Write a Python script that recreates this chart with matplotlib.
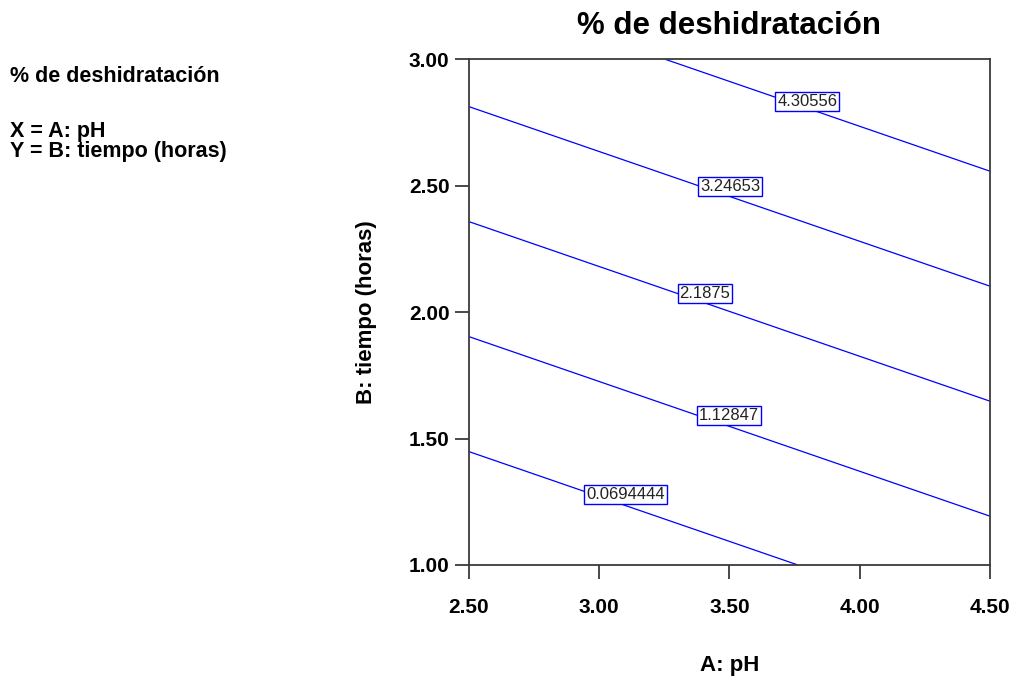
import numpy as np
import matplotlib
matplotlib.use("Agg")
import matplotlib.pyplot as plt

plt.rcParams['font.family'] = ['Liberation Sans', 'DejaVu Sans']

# Fitted linear response surface: % deshidratación = b0 + bA*pH + bB*tiempo
b0 = -5.3699
bA = 0.8267
bB = 2.3286

contour_levels = [0.0694444, 1.12847, 2.1875, 3.24653, 4.30556]
# label box centres (pH, tiempo), one per level
label_points = [(3.100, 1.278), (3.498, 1.593), (3.406, 2.072), (3.502, 2.495), (3.799, 2.835)]

ph_range = [2.5, 4.5]
tiempo_range = [1.0, 3.0]
x_ticks = [2.50, 3.00, 3.50, 4.00, 4.50]
y_ticks = [1.00, 1.50, 2.00, 2.50, 3.00]

title = "% de deshidratación"
x_label = "A: pH"
y_label = "B: tiempo (horas)"
side_lines = ["% de deshidratación", "X = A: pH", "Y = B: tiempo (horas)"]

fig = plt.figure(figsize=(10.2, 6.77), dpi=100)
ax = fig.add_axes([469 / 1020, 1 - 565 / 677, 521 / 1020, 505.7 / 677])

A = np.linspace(ph_range[0], ph_range[1], 201)
B = np.linspace(tiempo_range[0], tiempo_range[1], 201)
AA, BB = np.meshgrid(A, B)
Z = b0 + bA * AA + bB * BB

cs = ax.contour(AA, BB, Z, levels=contour_levels, colors='#0000ff', linewidths=0.9)
labels = ax.clabel(cs, inline=False, fmt='%g', fontsize=12, colors='#222222',
                   manual=label_points)
# keep labels horizontal, boxed, centred at the chosen points
for t in labels:
    lvl = float(t.get_text())
    i = int(np.argmin([abs(lvl - L) for L in contour_levels]))
    t.set_position(label_points[i])
    t.set_rotation(0)
    t.set_bbox(dict(boxstyle='square,pad=0.12', fc='white', ec='#0000ff', lw=1.0))
    t.set_zorder(5)

ax.set_xlim(ph_range)
ax.set_ylim(tiempo_range)
ax.set_xticks(x_ticks)
ax.set_yticks(y_ticks)
ax.set_xticklabels([f"{v:.2f}" for v in x_ticks])
ax.set_yticklabels([f"{v:.2f}" for v in y_ticks])

for s in ax.spines.values():
    s.set_color('#3a3a3a')
    s.set_linewidth(1.3)
ax.tick_params(axis='both', direction='out', length=10, width=1.3, color='#3a3a3a',
               labelsize=15)
ax.tick_params(axis='x', pad=14)
ax.tick_params(axis='y', pad=4)
for t in ax.get_xticklabels() + ax.get_yticklabels():
    t.set_fontweight('bold')

ax.set_xlabel(x_label, fontsize=16, fontweight='bold')
ax.xaxis.set_label_coords(0.5, -0.178)
ax.xaxis.label.set_va('top')
ax.set_ylabel(y_label, fontsize=16, fontweight='bold')
ax.yaxis.set_label_coords(-0.177, 0.5)

ax.set_title(title, fontsize=22.5, fontweight='bold', pad=18)

fig.text(10 / 1020, 1 - 82 / 677, side_lines[0], fontsize=15.5, fontweight='bold',
         va='baseline', ha='left')
fig.text(10 / 1020, 1 - 137 / 677, side_lines[1], fontsize=15.5, fontweight='bold',
         va='baseline', ha='left')
fig.text(10 / 1020, 1 - 157 / 677, side_lines[2], fontsize=15.5, fontweight='bold',
         va='baseline', ha='left')

fig.savefig("out.png", dpi=100)
